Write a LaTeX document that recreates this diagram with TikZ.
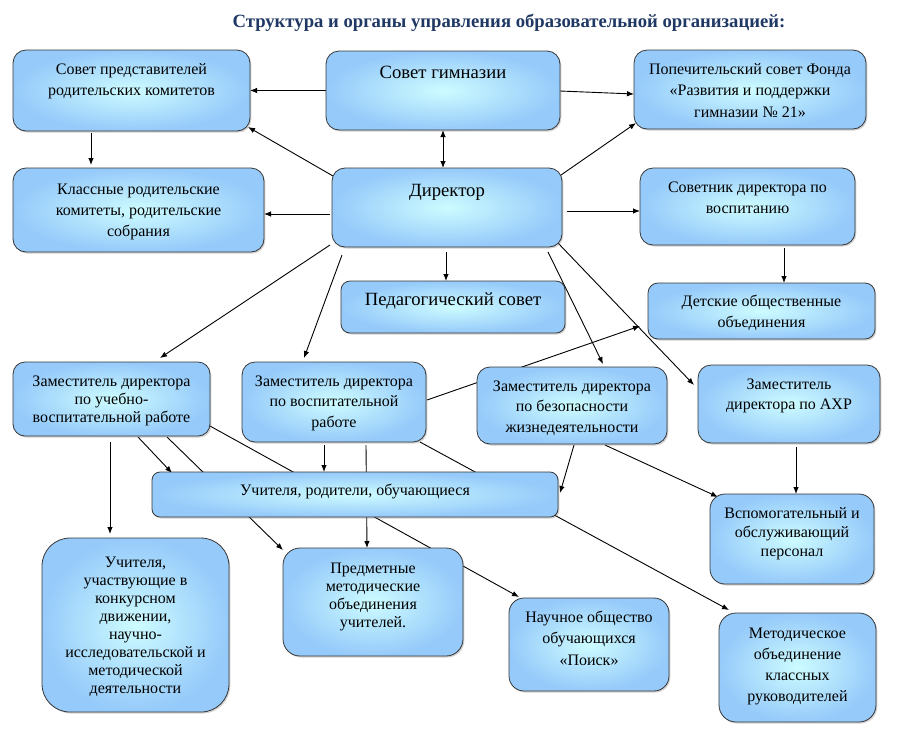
\documentclass[tikz,border=0pt]{standalone}
\usepackage{fontspec}
\setmainfont{Liberation Serif}
\usetikzlibrary{calc,arrows.meta,shadows}
\pgfdeclarelayer{bg}
\pgfsetlayers{bg,main}
\definecolor{cin}{RGB}{205,252,255}
\definecolor{cout}{RGB}{150,202,250}
\definecolor{bord}{RGB}{55,55,55}
\definecolor{ttl}{RGB}{31,56,100}
\newcommand\lns[1]{\begin{tabular}[t]{@{}c@{}}#1\end{tabular}}
\tikzset{
 box/.style={draw=bord, line width=0.8pt, shading=radial, inner color=cin, outer color=cout,
   inner sep=0pt, outer sep=0pt,
   drop shadow={shadow xshift=1.3pt, shadow yshift=-1.5pt, opacity=0.3, fill=black!60}},
 txt/.style={anchor=base, inner sep=0pt, font=\fontsize{16}{21}\selectfont},
 big/.style={anchor=base, inner sep=0pt, font=\fontsize{18.67}{22}\selectfont},
 conn/.style={line width=0.9pt, -{Latex[length=7pt,width=5.5pt]}},
 both/.style={line width=0.9pt, {Latex[length=7pt,width=5.5pt]}-{Latex[length=7pt,width=5.5pt]}},
 plain/.style={line width=0.9pt},
}
\newcommand\bx[6]{\node[box, minimum width=#4pt, minimum height=#5pt, rounded corners=#6pt] (#1) at (#2,#3) {};}
\begin{document}
\begin{tikzpicture}[x=1pt,y=-1pt]
\useasboundingbox (0,0) rectangle (904,729);
\node[anchor=base, inner sep=0pt, text=ttl, font=\bfseries\fontsize{18.67}{22}\selectfont] (title) at (509,27) {Структура и органы управления образовательной организацией:};
% boxes
\bx{b1}{131.5}{90.5}{237}{81}{13}
\bx{b2}{443}{90.5}{234}{79}{13}
\bx{b3}{750}{89.5}{232}{79}{13}
\bx{b4}{138.5}{210}{251}{84}{13}
\bx{b5}{447}{207.5}{230}{79}{13}
\bx{b6}{747.5}{206.5}{215}{77}{13}
\bx{b7}{453}{307}{224}{52}{9}
\bx{b8}{761.5}{311}{227}{56}{10}
\bx{b9}{111.5}{399}{197}{74}{12}
\bx{b10}{334}{402}{184}{80}{13}
\bx{b11}{572}{405.5}{190}{77}{13}
\bx{b12}{789}{404}{182}{78}{13}
\bx{b13}{355}{494.5}{406}{45}{8}
\bx{b14}{135.5}{625}{187}{174}{28}
\bx{b15}{373}{602}{180}{108}{17}
\bx{b16}{589}{644.5}{160}{93}{15}
\bx{b17}{792}{539}{164}{90}{15}
\bx{b18}{797.5}{667.5}{157}{109}{17}
% texts
\node[txt] (t1) at (131.5,74) {\lns{Совет представителей\\родительских комитетов}};
\node[big] (t2) at (443,78) {Совет гимназии};
\node[txt, font=\fontsize{16}{21.5}\selectfont] (t3) at (750,74) {\lns{Попечительский совет Фонда\\«Развития и поддержки\\гимназии № 21»}};
\node[txt] (t4) at (138.5,194) {\lns{Классные родительские\\комитеты, родительские\\собрания}};
\node[big] (t5) at (447,196) {Директор};
\node[txt] (t6) at (747.5,192) {\lns{Советник директора по\\воспитанию}};
\node[big] (t7) at (453,305) {Педагогический совет};
\node[txt] (t8) at (761.5,306) {\lns{Детские общественные\\объединения}};
\node[txt, font=\fontsize{16}{18}\selectfont] (t9) at (111.5,386) {\lns{Заместитель директора\\по учебно-\\воспитательной работе}};
\node[txt, font=\fontsize{16}{20.5}\selectfont] (t10) at (334,386) {\lns{Заместитель директора\\по воспитательной\\работе}};
\node[txt, font=\fontsize{16}{20.5}\selectfont] (t11) at (572,391) {\lns{Заместитель директора\\по безопасности\\жизнедеятельности}};
\node[txt, font=\fontsize{16}{20.5}\selectfont] (t12) at (789,389) {\lns{Заместитель\\директора по АХР}};
\node[txt] (t13) at (355,495) {Учителя, родители, обучающиеся};
\node[txt, font=\fontsize{16}{18.1}\selectfont] (t14) at (135.5,567) {\lns{Учителя,\\участвующие в\\конкурсном\\движении,\\научно-\\исследовательской и\\методической\\деятельности}};
\node[txt, font=\fontsize{16}{18.3}\selectfont] (t15) at (373,573) {\lns{Предметные\\методические\\объединения\\учителей.}};
\node[txt, font=\fontsize{16}{21.5}\selectfont] (t16) at (589,622) {\lns{Научное общество\\обучающихся\\«Поиск»}};
\node[txt, font=\fontsize{16}{19}\selectfont] (t17) at (792,518) {\lns{Вспомогательный и\\обслуживающий\\персонал}};
\node[txt] (t18) at (797.5,638) {\lns{Методическое\\объединение\\классных\\руководителей}};
% connectors
\begin{pgfonlayer}{bg}
\draw[conn] (b2.west) -- (b1.east);
\draw[conn] ($(b2.east)+(0,0.5)$) -- ($(b3.west)+(0,4.5)$);
\draw[both] (b2.south) -- (b2.south |- b5.north);
\draw[conn] ($(b5.north west)+(1,8)$) -- ($(b1.south east)+(-2,-4)$);
\draw[conn] ($(b5.north east)+(-1,7)$) -- ($(b3.south west)+(2,-6)$);
\draw[conn] ($(b1.south west)+(78,2)$) -- ($(b4.north west)+(78,-3)$);
\draw[conn] ($(b5.west)+(-2,6.5)$) -- ($(b4.east)+(0,4)$);
\draw[conn] ($(b5.east)+(5,3.5)$) -- ($(b6.west)+(0,4.5)$);
\draw[conn] ($(b6.south west)+(144,3)$) -- ($(b8.north west)+(136,0)$);
\draw[conn] ($(b5.south)+(-1,5)$) -- ($(b7.north)+(-7,0)$);
\draw[conn] ($(b5.south west)+(-2,-2)$) -- ($(b9.north)+(48.5,-4)$);
\draw[conn] ($(b5.south west)+(10,8)$) -- ($(b10.north west)+(62,-4)$);
\draw[conn] ($(b5.south east)+(-14,5)$) -- ($(b11.north west)+(126,-3)$);
\draw[conn] ($(b5.south east)+(-4,-4)$) -- ($(b12.north west)+(-4,20)$);
\draw[conn] ($(b10.east)+(1,-2)$) -- ($(b8.south west)+(-8,-13)$);
\draw[conn] ($(b9.south west)+(97,6)$) -- ($(b14.north west)+(68,-4)$);
\draw[conn] ($(b9.south west)+(125,1)$) -- ($(b13.north west)+(20,1)$);
\draw[conn] ($(b9.south west)+(154,1)$) -- ($(b15.north west)+(0,2)$);
\draw[conn] ($(b9.south east)+(0,-10)$) -- ($(b16.north west)+(10,-1)$);
\draw[conn] ($(b10.south west)+(82,3)$) -- ($(b13.north)+(-31,0)$);
\draw[conn] ($(b10.south west)+(124,3)$) -- ($(b15.north west)+(84,0)$);
\draw[conn] ($(b10.south east)+(-6,0)$) -- ($(b18.north west)+(10,-3)$);
\draw[conn] ($(b11.south west)+(97,1)$) -- ($(b13.east)+(2,-1.5)$);
\draw[conn] ($(b11.south west)+(128,1)$) -- ($(b17.north west)+(8,3)$);
\draw[conn] ($(b12.south west)+(98,4)$) -- ($(b17.north west)+(86,0)$);
\end{pgfonlayer}
\end{tikzpicture}
\end{document}
